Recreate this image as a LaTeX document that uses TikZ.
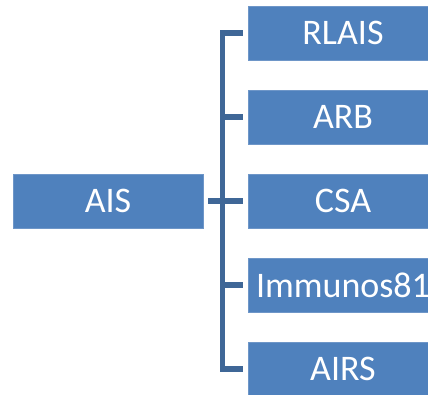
\documentclass[tikz,border=0pt]{standalone}
\usepackage{fontspec}
\setmainfont{Carlito}
\definecolor{boxblue}{HTML}{4F81BD}
\definecolor{boxedge}{HTML}{6E96C8}
\definecolor{linkblue}{HTML}{3F6797}
\begin{document}
\begin{tikzpicture}[x=1pt,y=-1pt,
  item/.style={fill=boxblue,draw=boxedge,line width=0.6pt,minimum width=190pt,minimum height=54pt,
    inner sep=0pt,text=white,font=\fontsize{36}{40}\selectfont},
  link/.style={draw=linkblue,line width=5.5pt,line join=miter}]
\useasboundingbox (0,0) rectangle (428,394);
\clip (0,0) rectangle (428,394);
% root and children
\node[item] (ais) at (108,201) {AIS};
\node[item] (rlais) at (343,33) {RLAIS};
\node[item] (arb) at (343,117) {ARB};
\node[item] (csa) at (343,201) {CSA};
\node[item] (imm) at (343,285) {Immunos81};
\node[item] (airs) at (343,369) {AIRS};
% bracket joining the children
\draw[link] ([xshift=-5pt]rlais.west) -- ++(-20,0) coordinate (top) |- ([xshift=-5pt]airs.west);
\draw[link] ([xshift=-5pt]arb.west) -- ++(-22.75,0);
\draw[link] ([xshift=-5pt]imm.west) -- ++(-22.75,0);
\draw[link] ([xshift=5pt]ais.east) -- ([xshift=-5pt]csa.west);
\end{tikzpicture}
\end{document}
